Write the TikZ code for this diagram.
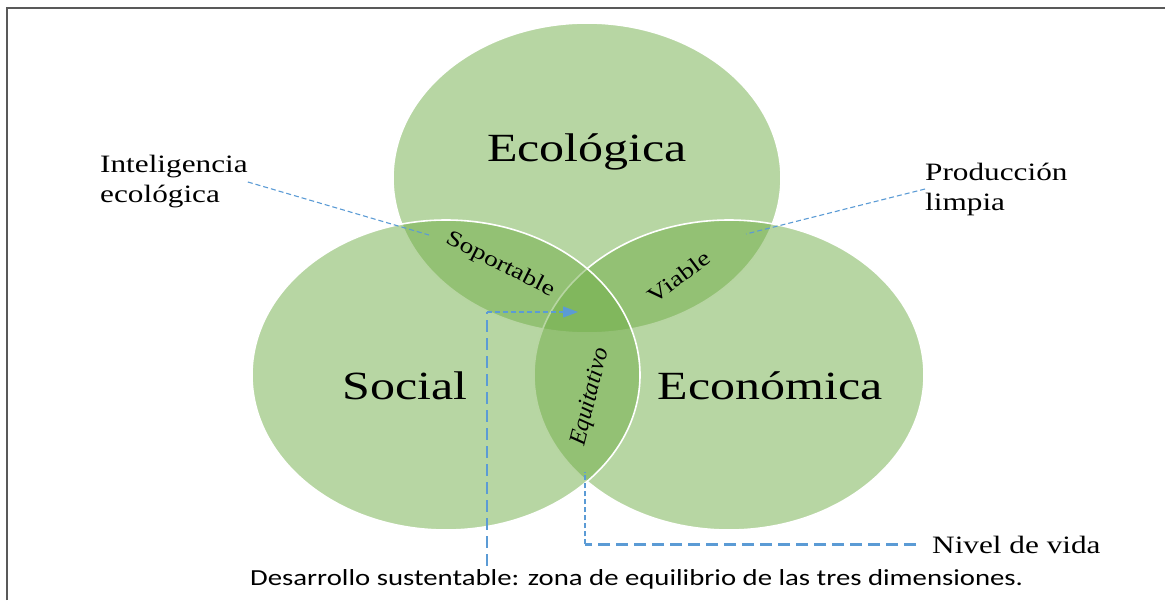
\documentclass[tikz,border=0pt]{standalone}
\usepackage{fontspec}
\setmainfont{Liberation Serif}[FakeStretch=1.25]
\newfontfamily\plainserif{Liberation Serif}
\newfontfamily\capfont{Carlito}[FakeStretch=1.25]
\usetikzlibrary{arrows.meta}

\definecolor{vgreen}{HTML}{70AD47}
\definecolor{linkblue}{HTML}{5B9BD5}
\definecolor{framegray}{HTML}{595959}

\tikzset{
  dimension/.style={fill=vgreen, fill opacity=.5, draw=white, draw opacity=1, line width=1.6pt},
  biglabel/.style={inner sep=0, font=\fontsize{40}{48}\selectfont, anchor=base},
  smalllabel/.style={inner sep=0, font=\fontsize{25}{30}\selectfont, align=left},
  zonelabel/.style={inner sep=0, font=\fontsize{22}{26}\selectfont},
  thindash/.style={linkblue, line width=1.1pt, dash pattern=on 5pt off 3pt},
  thickdash/.style={linkblue, line width=2.2pt, dash pattern=on 12pt off 6pt},
}

\begin{document}
\begin{tikzpicture}[x=1pt,y=-1pt]
    \useasboundingbox (0,0) rectangle (1165,600);
    \draw[framegray, line width=1.5pt] (7,600) -- (7,8) -- (1165,8);

    % the three dimensions
    \draw[dimension] (587,178) ellipse [x radius=194pt, y radius=155pt];
    \draw[dimension] (729,375) ellipse [x radius=195pt, y radius=155pt];
    \draw[dimension] (446,375) ellipse [x radius=194pt, y radius=155pt];

    \node[biglabel] (eco) at (587,161) {Ecológica};
    \node[biglabel] (soc) at (405,399) {Social};
    \node[biglabel] (econ) at (770,399) {Económica};

    \node[zonelabel, rotate=-27] (sop) at (500,265) {Soportable};
    \node[zonelabel, rotate=37] (via) at (679,277) {Viable};
    \node[zonelabel, rotate=76, font=\plainserif\itshape\fontsize{24}{28}\selectfont] (equi) at (591,397) {Equitativo};

    \node[smalllabel, anchor=west] (intel) at (100,182) {Inteligencia\\ecológica};
    \node[smalllabel, anchor=west] (prod) at (925,189) {Producción\\limpia};
    \node[smalllabel, anchor=base west] (nivel) at (932,553) {Nivel de vida};
    \node[inner sep=0, anchor=base west, font=\capfont\fontsize{23}{27}\selectfont] (desarrollo) at (250,585) {Desarrollo sustentable: zona de equilibrio de las tres dimensiones.};

    \coordinate (sopend) at (429,235);
    \coordinate (viaend) at (746,234);
    \coordinate (corner) at (487,312);
    \coordinate (core) at (578,312);
    \coordinate (equiend) at (585,472);

    \draw[thindash] (intel.east) -- (sopend);
    \draw[thindash] (prod.west) -- (viaend);
    \draw[thickdash, shorten <=3pt] (desarrollo.north -| corner) -- (corner);
    \draw[thindash, -{Triangle[length=15pt,width=11pt]}] (corner) -- (core);
    \draw[thickdash, shorten <=16pt] (nivel.west) -- (nivel.west -| equiend);
    \draw[thindash] (nivel.west -| equiend) -- (equiend);
\end{tikzpicture}
\end{document}
